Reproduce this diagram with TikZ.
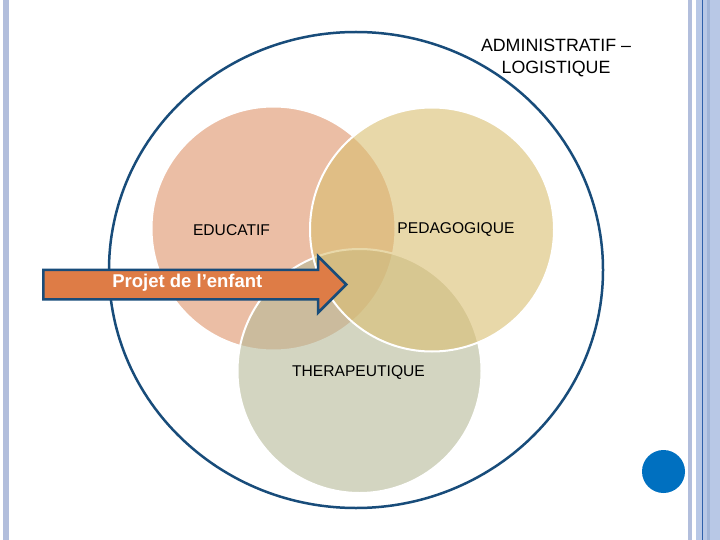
\documentclass[tikz,border=0pt]{standalone}
\usepackage{fontspec}
\setmainfont{Liberation Sans}
\usetikzlibrary{shapes.geometric}
\usetikzlibrary{shapes.arrows}
\definecolor{bleufonce}{RGB}{24,76,122}
\definecolor{bleupastille}{RGB}{0,112,192}
\definecolor{bordpale}{RGB}{178,190,220}
\definecolor{bordclair}{RGB}{184,200,230}
\definecolor{bordmoyen}{RGB}{160,180,215}
\definecolor{bordtrait}{RGB}{46,96,170}
\definecolor{saumon}{RGB}{222,147,105}
\definecolor{sable}{RGB}{218,190,113}
\definecolor{sauge}{RGB}{182,185,152}
\definecolor{orangeprojet}{RGB}{222,124,70}
\tikzset{
	domaine/.style = {circle, draw=white, line width=2pt, fill opacity=0.6,
		minimum size=244pt, inner sep=0pt},% un cercle par domaine
	libelle/.style = {font=\fontsize{15.6}{18}\selectfont, text=black},
	cadre/.style = {ellipse, draw=bleufonce, line width=2.5pt,
		minimum width=494pt, minimum height=476pt},% domaine administratif
	fleche/.style = {single arrow, draw=bleufonce, fill=orangeprojet,
		line width=2.5pt, single arrow head extend=13.5pt,
		single arrow tip angle=90, minimum height=303pt,
		text height=9pt, text depth=4pt, inner ysep=7pt, text=white,
		font=\fontsize{18.5}{20}\selectfont\bfseries}
}
\begin{document}
\begin{tikzpicture}[x=1pt,y=-1pt]
	\useasboundingbox[fill=white] (0,0) rectangle (720,540);
	% bordures de la page
	\fill[bordpale] (3,0) rectangle (9,540);
	\fill[bordpale] (688,0) rectangle (692,540);
	\fill[bordclair] (696,0) rectangle (720,540);
	\fill[bordmoyen] (707,0) rectangle (709.5,540);
	\fill[bordtrait] (701.7,0) rectangle (702.8,540);
	\node[circle, fill=bleupastille, minimum size=43pt, inner sep=0pt] (pastille) at (663.5,471.5) {};
	% cercle englobant
	\node[cadre] (admin) at (356,270) {};
	\node[libelle, font=\fontsize{17.8}{22}\selectfont, align=center] (admintxt) at (556,58)
		{ADMINISTRATIF --\\LOGISTIQUE};
	% les trois domaines
	\node[domaine, fill=saumon] (edu) at (273.5,228.5) {};
	\node[domaine, fill=sauge] (thera) at (359.5,371) {};
	\node[domaine, fill=sable] (peda) at (432,229.5) {};
	\node[libelle] (edutxt) at (231.5,230) {EDUCATIF};
	\node[libelle] (pedatxt) at (456,230) {PEDAGOGIQUE};
	\node[libelle] (theratxt) at (358.5,372.5) {THERAPEUTIQUE};
	% le projet
	\node[fleche, anchor=tail] (projet) at (42,284.5) {Projet de l’enfant};
\end{tikzpicture}
\end{document}
